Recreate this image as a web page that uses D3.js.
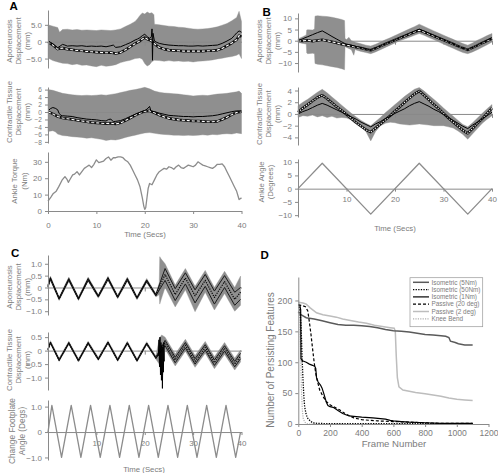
<!DOCTYPE html>
<html><head><meta charset="utf-8">
<script src="https://cdn.jsdelivr.net/npm/d3@7"></script>
<style>body{margin:0;background:#fff}svg{display:block}</style>
</head><body>
<svg id="chart" width="498" height="473"></svg>
<script>
// ---------------- DATA ----------------
const timeTicks = [0, 10, 20, 30, 40];
// Panel A : aponeurosis displacement (mm) [time s, value]
const aAponBandHi = [[0,5.0],[1,4.6],[2,4.2],[2.4,2.8],[3,3.6],[4,3.7],[5,3.5],[6,3.6],[7,3.4],[8,3.5],[9,3.4],[10,3.3],[11,3.5],[12,3.4],[13,3.3],[14,3.5],[15,3.8],[16,4.5],[17,5.2],[18,6.0],[18.5,6.8],[19,7.8],[19.5,8.5],[20,8.2],[20.5,8.8],[21,8.4],[21.5,8.6],[21.9,8.0],[22,5.2],[23,5.0],[24,4.8],[25,4.6],[26,4.5],[27,4.3],[28,4.2],[29,4.0],[30,3.8],[31,3.7],[32,3.8],[33,3.9],[34,4.1],[35,4.4],[36,4.9],[37,5.4],[38,6.2],[39,7.2],[39.5,9.0],[40,6.0]];
const aAponBandLo = [[0,-4.8],[1,-5.6],[2,-6.0],[3,-6.4],[4,-6.5],[5,-6.8],[6,-6.6],[7,-7.0],[8,-6.9],[9,-7.2],[10,-7.4],[11,-7.0],[12,-7.3],[13,-7.1],[14,-6.8],[15,-6.2],[16,-5.8],[17,-5.5],[18,-5.0],[19,-4.8],[19.5,-5.2],[20,-6.5],[20.5,-7.2],[21,-6.8],[21.5,-5.9],[22,-5.5],[23,-5.6],[24,-5.8],[25,-5.6],[26,-5.8],[27,-5.7],[28,-5.9],[29,-5.8],[30,-6.0],[31,-5.8],[32,-5.7],[33,-5.6],[34,-5.4],[35,-5.1],[36,-4.9],[37,-4.6],[38,-4.4],[39,-4.0],[39.5,-3.6],[40,-5.0]];
const aAponSolid = [[0,0.2],[0.5,-0.3],[1,-0.6],[1.5,-1.2],[2,-1.8],[2.5,-1.3],[3,-0.8],[3.5,-1.0],[4,-1.3],[5,-1.2],[6,-1.3],[7,-1.2],[8,-1.4],[9,-1.3],[10,-1.4],[11,-1.3],[12,-1.5],[13,-1.2],[13.5,-1.0],[14,-1.7],[15,-1.5],[16,-0.9],[17,-0.3],[18,0.5],[18.5,0.8],[19,1.2],[19.5,1.8],[20,2.2],[20.5,1.5],[21,1.0],[21.4,1.6],[21.5,3.8],[21.6,-5.5],[21.7,2.5],[22,0.2],[22.5,-0.2],[23,-0.5],[24,-0.8],[25,-1.0],[26,-1.1],[27,-1.2],[28,-1.2],[29,-1.3],[30,-1.3],[31,-1.2],[32,-1.3],[33,-1.2],[34,-1.1],[35,-1.0],[36,-0.5],[37,0.2],[38,1.0],[38.5,1.8],[39,2.6],[39.5,3.2],[40,2.8]];
const aAponDashed = [[0,0.0],[0.5,-0.5],[1,-1.0],[1.5,-1.6],[2,-2.2],[2.5,-2.0],[3,-1.9],[4,-2.2],[5,-2.4],[6,-2.6],[7,-2.7],[8,-2.9],[9,-3.0],[10,-3.1],[11,-3.2],[12,-3.3],[13,-3.2],[14,-3.5],[15,-3.2],[16,-2.4],[17,-1.5],[18,-0.6],[19,0.2],[19.5,0.8],[20,1.2],[20.5,0.8],[21,0.5],[21.5,0.2],[22,-0.6],[22.5,-1.2],[23,-1.7],[24,-2.2],[25,-2.5],[26,-2.6],[27,-2.7],[28,-2.8],[29,-2.8],[30,-2.8],[31,-2.8],[32,-2.8],[33,-2.7],[34,-2.7],[35,-2.5],[36,-2.0],[37,-1.2],[38,-0.4],[39,0.6],[39.5,1.8],[40,1.5]];
// Panel A : contractile tissue displacement (mm)
const aContBandHi = [[0,6.0],[1,5.8],[2,5.4],[3,5.0],[4,4.8],[5,4.6],[6,4.5],[7,4.4],[8,4.5],[9,4.4],[10,4.5],[11,4.6],[12,4.5],[13,4.7],[14,4.9],[15,5.2],[16,5.5],[17,5.8],[18,6.0],[19,6.3],[20,6.6],[21,6.2],[22,5.6],[23,5.3],[24,5.1],[25,5.0],[26,4.9],[27,4.8],[28,4.6],[29,4.5],[30,4.3],[31,4.4],[32,4.5],[33,4.4],[34,4.6],[35,4.8],[36,4.9],[37,5.0],[38,5.2],[39,5.4],[39.5,5.6],[40,5.0]];
const aContBandLo = [[0,-5.2],[1,-5.0],[1.5,-5.3],[2,-5.9],[3,-6.3],[4,-6.4],[5,-6.6],[6,-6.7],[7,-6.8],[8,-7.0],[9,-6.9],[10,-7.1],[11,-7.3],[12,-7.6],[13,-7.4],[14,-7.5],[15,-7.2],[16,-6.8],[17,-6.5],[18,-6.2],[19,-5.9],[20,-5.6],[21,-5.5],[22,-5.7],[23,-5.9],[24,-6.0],[25,-6.1],[26,-6.2],[27,-6.2],[28,-6.3],[29,-6.2],[30,-6.3],[31,-6.2],[32,-6.1],[33,-6.2],[34,-6.0],[35,-6.1],[36,-5.9],[37,-5.8],[38,-5.9],[39,-5.6],[40,-5.8]];
const aContSolid = [[0,0.3],[0.5,0.9],[1,1.2],[1.5,1.0],[2,0.6],[2.3,-0.4],[2.7,-0.9],[3,-1.0],[4,-1.1],[5,-1.2],[6,-1.5],[7,-1.7],[8,-1.9],[9,-2.0],[10,-2.1],[11,-2.3],[12,-2.4],[12.5,-2.0],[13,-1.9],[13.5,-2.6],[14,-2.5],[15,-2.3],[16,-1.8],[17,-1.2],[18,-0.6],[19,-0.1],[20,0.4],[20.5,0.8],[21,1.5],[21.3,0.2],[22,0.1],[23,-0.3],[24,-0.6],[25,-0.9],[26,-1.0],[27,-1.1],[28,-1.2],[29,-1.2],[30,-1.3],[31,-1.2],[32,-1.2],[33,-1.1],[34,-1.0],[35,-0.8],[36,-0.5],[37,-0.2],[38,0.1],[39,0.3],[40,0.2]];
const aContDashed = [[0,0.1],[1,-0.5],[2,-1.2],[3,-1.6],[4,-1.8],[5,-2.0],[6,-2.2],[7,-2.4],[8,-2.6],[9,-2.8],[10,-2.9],[11,-3.0],[12,-3.1],[13,-3.0],[14,-3.2],[15,-2.9],[16,-2.3],[17,-1.6],[18,-0.9],[19,-0.3],[20,0.2],[21,0.3],[22,-0.2],[23,-0.8],[24,-1.3],[25,-1.7],[26,-1.9],[27,-2.1],[28,-2.2],[29,-2.3],[30,-2.4],[31,-2.4],[32,-2.5],[33,-2.6],[34,-2.6],[35,-2.5],[36,-2.0],[37,-1.4],[38,-0.7],[39,-0.1],[40,0.1]];
// Panel A : ankle torque (Nm)
const aTorque = [[0,6],[0.6,8.5],[1.1,10.7],[1.7,12.1],[2.2,14.7],[2.9,18.8],[3.5,21],[3.9,19.5],[4.2,17.5],[4.6,19.5],[5.1,22],[5.5,22.5],[6.0,24],[6.5,22],[7.0,24],[7.5,26],[8.0,27],[8.5,28],[9.0,26.5],[9.5,28.5],[10,31.2],[10.5,29.5],[11,30],[11.5,30.5],[12,32],[12.5,33],[13,31],[13.5,32.5],[14,32.5],[14.5,33],[15,33],[15.5,32.5],[16,31],[16.5,30],[17,28],[17.5,25],[18,22],[18.5,19],[19,15],[19.5,8],[19.8,3],[20,1],[20.2,2],[20.5,9],[20.7,13.7],[21,16.8],[21.5,16],[22,19],[22.5,22],[23,24],[23.5,25],[24,26],[24.5,25.5],[25,27],[25.5,26.5],[26,25.5],[26.5,27],[27,28],[27.5,26.5],[28,26],[28.5,27],[29,28],[29.5,27.5],[30,27],[30.5,28],[31,30],[31.5,29],[32,28],[32.5,27.5],[33,27],[33.5,26.5],[34,26],[34.5,27],[35,28.5],[35.5,28.5],[36,28.8],[36.5,27],[37,24],[37.5,21],[38,18],[38.5,15],[39,12],[39.5,7],[40,8]];

// Panel B : aponeurosis displacement (mm)
const bAponBandHi = [[0,0.8],[1,1.8],[1.7,2.6],[1.8,4.8],[2,4.9],[3,4.8],[3.4,5.2],[3.5,11.0],[4,11.2],[5,11.0],[6,10.8],[7,10.5],[8,10.0],[9,9.5],[9.6,9.0],[9.7,1.0],[10,0.5],[10.5,1.5],[11,0.0],[12,-0.8],[13,-1.4],[14,-2.0],[15,-2.4],[16,-1.6],[17,-0.6],[18,0.4],[19,1.3],[20,2.3],[21,3.3],[22,4.3],[23,5.3],[24,6.3],[25,7.4],[26,6.4],[27,5.4],[28,4.4],[29,3.4],[30,2.5],[31,1.5],[32,0.6],[33,-0.4],[34,-1.3],[35,-2.0],[36,-1.0],[37,0.2],[38,1.2],[39,2.3],[40,3.2]];
const bAponBandLo = [[0,-0.8],[1,-1.2],[1.7,-1.5],[1.8,-5.5],[2,-5.8],[3,-5.6],[3.4,-5.8],[3.5,-10.2],[4,-10.5],[5,-10.8],[6,-11.2],[7,-11.6],[8,-12.0],[9,-12.5],[9.6,-13.0],[9.7,-2.6],[10,-3.0],[11,-4.0],[11.5,-6.5],[11.8,-3.8],[12,-4.2],[13,-4.8],[14,-5.3],[15,-5.8],[16,-5.0],[17,-4.0],[18,-3.0],[19,-2.0],[20,-1.0],[21,0.0],[22,0.8],[23,1.6],[24,2.4],[25,3.2],[26,2.4],[27,1.4],[28,0.5],[29,-0.5],[30,-1.5],[31,-2.5],[32,-3.4],[33,-4.4],[34,-5.3],[35,-5.8],[36,-5.0],[37,-4.0],[38,-2.9],[39,-1.8],[40,-0.6]];
const bAponSolid = [[0,0],[1,0.9],[2,1.8],[3,2.7],[4,3.6],[5,4.4],[6,3.2],[7,1.9],[8,0.7],[9,-0.5],[9.7,-1.3],[10,-1.5],[11,-2.0],[12,-2.6],[13,-3.1],[14,-3.7],[15,-4.2],[16,-3.2],[17,-2.3],[18,-1.4],[19,-0.5],[20,0.4],[21,1.4],[22,2.3],[23,3.3],[24,4.2],[25,5.2],[26,4.3],[27,3.3],[28,2.4],[29,1.4],[30,0.5],[31,-0.5],[32,-1.4],[33,-2.4],[34,-3.3],[35,-4.0],[36,-3.0],[37,-2.0],[38,-0.9],[39,0.2],[40,1.3]];
const bAponDashed = [[0,0],[1,-0.1],[2,0.2],[3,-0.2],[4,0.1],[5,0.4],[6,0.0],[7,-0.5],[8,-1.0],[9,-1.6],[10,-2.0],[11,-2.4],[12,-2.9],[13,-3.3],[14,-3.8],[15,-4.3],[16,-3.4],[17,-2.4],[18,-1.5],[19,-0.6],[20,0.3],[21,1.2],[22,2.1],[23,3.0],[24,3.9],[25,4.7],[26,3.9],[27,3.0],[28,2.1],[29,1.2],[30,0.3],[31,-0.6],[32,-1.5],[33,-2.4],[34,-3.3],[35,-4.1],[36,-3.1],[37,-2.1],[38,-1.0],[39,0.0],[40,1.0]];
// Panel B : contractile tissue displacement (mm)
const bContBandHi = [[0,1.4],[1,2.0],[2,2.5],[3,3.1],[4,3.7],[5,4.2],[6,3.6],[7,2.9],[8,2.2],[9,1.5],[10,0.8],[11,0.1],[12,-0.5],[13,-1.1],[14,-1.6],[15,-2.0],[16,-1.3],[17,-0.6],[18,0.2],[19,0.9],[20,1.6],[21,2.3],[22,3.0],[23,3.6],[24,4.2],[25,4.5],[26,3.9],[27,3.2],[28,2.5],[29,1.8],[30,1.0],[31,0.3],[32,-0.4],[33,-1.1],[34,-1.8],[35,-2.2],[36,-1.5],[37,-0.7],[38,0.1],[39,0.9],[40,1.6]];
const bContBandLo = [[0,-0.6],[1,-0.3],[2,-0.4],[3,-0.2],[4,-0.5],[5,-0.3],[6,-0.6],[7,-0.4],[8,-0.7],[9,-0.6],[10,-0.7],[11,-1.0],[12,-1.3],[13,-2.0],[14,-3.0],[15,-4.6],[16,-3.0],[17,-2.0],[18,-1.6],[19,-1.4],[20,-1.5],[21,-1.7],[22,-1.8],[23,-1.9],[24,-1.8],[25,-1.7],[26,-1.8],[27,-1.9],[28,-2.0],[29,-2.0],[30,-2.0],[31,-2.2],[32,-2.4],[33,-2.9],[34,-3.5],[35,-4.3],[36,-3.4],[37,-2.5],[38,-1.6],[39,-0.9],[40,-0.3]];
const bContSolid = [[0,0],[1,0.4],[2,0.7],[3,1.1],[4,1.5],[5,1.8],[6,1.5],[7,1.1],[8,0.7],[9,0.3],[10,-0.1],[11,-0.5],[12,-0.9],[13,-1.4],[14,-1.8],[15,-2.2],[16,-1.7],[17,-1.3],[18,-0.8],[19,-0.4],[20,0.1],[21,0.5],[22,0.9],[23,1.4],[24,1.8],[25,2.1],[26,1.7],[27,1.3],[28,0.8],[29,0.4],[30,-0.1],[31,-0.6],[32,-1.1],[33,-1.6],[34,-2.1],[35,-2.5],[36,-1.9],[37,-1.4],[38,-0.8],[39,-0.3],[40,0.3]];
const bContDotted = [[0,0.3],[1,1.0],[2,1.6],[3,2.2],[4,2.8],[5,3.2],[6,2.6],[7,1.9],[8,1.2],[9,0.6],[10,-0.1],[11,-0.8],[12,-1.5],[13,-2.1],[14,-2.7],[15,-3.1],[16,-2.4],[17,-1.7],[18,-1.0],[19,-0.3],[20,0.5],[21,1.2],[22,2.0],[23,2.7],[24,3.4],[25,3.9],[26,3.2],[27,2.4],[28,1.6],[29,0.9],[30,0.1],[31,-0.7],[32,-1.4],[33,-2.1],[34,-2.8],[35,-3.3],[36,-2.5],[37,-1.6],[38,-0.8],[39,0.1],[40,1.0]];
// Panel B : ankle angle (degrees)
const bAngle = [[0,0],[5,9.6],[15,-9.6],[25,9.6],[35,-9.6],[40,0]];

// Panel C : aponeurosis displacement (mm)
const cAponBandHi = [[0,0.15],[0.5,0.48],[2.3,-0.4],[4.3,0.44],[6.3,-0.4],[8.3,0.44],[10.4,-0.3],[12.4,0.47],[14.4,-0.33],[16.4,0.44],[18.4,-0.37],[20.4,0.38],[22.3,-0.25],[23.0,0.2],[23.1,1.3],[23.4,1.2],[24.2,1.0],[26.3,0.1],[28.4,0.8],[30.4,0.05],[32.5,0.72],[34.4,0.0],[36.5,0.68],[38.6,0.0],[39.8,0.48]];
const cAponBandLo = [[0,-0.05],[0.5,0.3],[2.3,-0.55],[4.3,0.26],[6.3,-0.55],[8.3,0.26],[10.4,-0.45],[12.4,0.3],[14.4,-0.48],[16.4,0.26],[18.4,-0.52],[20.4,0.2],[22.3,-0.4],[23.0,-0.3],[23.1,-0.7],[23.4,-0.5],[24.2,0.0],[26.3,-0.82],[28.4,-0.1],[30.4,-1.02],[32.5,-0.2],[34.4,-0.95],[36.5,-0.25],[38.6,-1.0],[39.8,-0.75]];
const cAponUpper = [[0,0.1],[0.5,0.42],[2.3,-0.45],[4.3,0.38],[6.3,-0.45],[8.3,0.38],[10.4,-0.35],[12.4,0.42],[14.4,-0.38],[16.4,0.38],[18.4,-0.42],[20.4,0.32],[22.3,-0.3],[24.2,0.8],[26.3,-0.05],[28.4,0.62],[30.4,-0.1],[32.5,0.55],[34.4,-0.15],[36.5,0.5],[38.6,-0.2],[39.8,0.0]];
const cAponDotted = [[0,0.05],[0.5,0.38],[2.3,-0.47],[4.3,0.34],[6.3,-0.47],[8.3,0.34],[10.4,-0.37],[12.4,0.38],[14.4,-0.4],[16.4,0.34],[18.4,-0.44],[20.4,0.28],[22.3,-0.32],[24.2,0.55],[26.3,-0.3],[28.4,0.4],[30.4,-0.35],[32.5,0.3],[34.4,-0.42],[36.5,0.25],[38.6,-0.5],[39.8,-0.2]];
const cAponLower = [[0,0.02],[0.5,0.35],[2.3,-0.5],[4.3,0.3],[6.3,-0.5],[8.3,0.3],[10.4,-0.4],[12.4,0.34],[14.4,-0.43],[16.4,0.3],[18.4,-0.47],[20.4,0.25],[22.3,-0.35],[24.2,0.3],[26.3,-0.55],[28.4,0.15],[30.4,-0.65],[32.5,0.05],[34.4,-0.7],[36.5,0.0],[38.6,-0.75],[39.8,-0.5]];
// Panel C : contractile tissue displacement (mm)
const cContBandHi = [[0,0.1],[0.5,0.37],[2.3,-0.28],[4.3,0.35],[6.3,-0.3],[8.3,0.35],[10.4,-0.25],[12.4,0.37],[14.4,-0.28],[16.4,0.35],[18.4,-0.3],[20.4,0.33],[22.3,-0.2],[23.0,0.45],[23.5,0.58],[24.2,0.5],[26.3,-0.13],[28.4,0.42],[30.4,-0.18],[32.5,0.34],[34.4,-0.23],[36.5,0.3],[38.6,-0.28],[39.8,0.02]];
const cContBandLo = [[0,0.0],[0.5,0.25],[2.3,-0.4],[4.3,0.23],[6.3,-0.42],[8.3,0.23],[10.4,-0.37],[12.4,0.25],[14.4,-0.4],[16.4,0.23],[18.4,-0.42],[20.4,0.21],[22.3,-0.32],[23.0,-0.5],[23.7,-0.9],[24.2,0.06],[26.3,-0.57],[28.4,-0.02],[30.4,-0.62],[32.5,-0.1],[34.4,-0.67],[36.5,-0.14],[38.6,-0.72],[39.8,-0.42]];
const cContUpper = [[0,0.05],[0.5,0.32],[2.3,-0.33],[4.3,0.3],[6.3,-0.35],[8.3,0.3],[10.4,-0.3],[12.4,0.32],[14.4,-0.33],[16.4,0.3],[18.4,-0.35],[20.4,0.28],[22.3,-0.25],[24.2,0.38],[26.3,-0.25],[28.4,0.3],[30.4,-0.3],[32.5,0.22],[34.4,-0.35],[36.5,0.18],[38.6,-0.4],[39.8,-0.1]];
const cContDotted = [[0,0.04],[0.5,0.3],[2.3,-0.35],[4.3,0.28],[6.3,-0.37],[8.3,0.28],[10.4,-0.32],[12.4,0.3],[14.4,-0.35],[16.4,0.28],[18.4,-0.37],[20.4,0.26],[22.3,-0.27],[24.2,0.28],[26.3,-0.35],[28.4,0.2],[30.4,-0.4],[32.5,0.12],[34.4,-0.45],[36.5,0.08],[38.6,-0.5],[39.8,-0.2]];
const cContLower = [[0,0.03],[0.5,0.28],[2.3,-0.37],[4.3,0.26],[6.3,-0.39],[8.3,0.26],[10.4,-0.34],[12.4,0.28],[14.4,-0.37],[16.4,0.26],[18.4,-0.39],[20.4,0.24],[22.3,-0.29],[24.2,0.18],[26.3,-0.45],[28.4,0.1],[30.4,-0.5],[32.5,0.02],[34.4,-0.55],[36.5,-0.02],[38.6,-0.6],[39.8,-0.3]];
const cContTransient = [[22.8,-0.2],[22.95,0.4],[23.05,-0.6],[23.15,0.5],[23.25,-0.9],[23.35,0.3],[23.45,-1.1],[23.55,0.2],[23.65,-1.4],[23.75,0.1],[23.85,-0.8],[23.95,0.3],[24.05,-0.4]];
// Panel C : change in footplate angle (degs)
const cAngle = [[0,0],[0.8,1.05],[2.8,-1.0],[4.8,1.05],[6.8,-1.0],[8.8,1.05],[10.8,-1.0],[12.8,1.05],[14.8,-1.0],[16.8,1.05],[18.8,-1.0],[20.8,1.05],[22.8,-1.0],[24.8,1.05],[26.8,-1.0],[28.8,1.05],[30.8,-1.0],[32.8,1.05],[34.8,-1.0],[36.8,1.05],[38.8,-1.0],[39.8,0]];

// Panel D : number of persisting features vs frame number [frame, count]
const dFrameTicks = [0, 200, 400, 600, 800, 1000, 1200];
const dCountTicks = [0, 50, 100, 150, 200];
const dIso5 = [[0,182],[10,178],[50,172],[100,170],[150,167],[200,164],[250,161],[300,160],[350,160],[400,159],[450,158],[500,156],[550,153],[600,151],[650,150],[700,149],[750,147],[800,145],[850,144],[900,143],[930,142],[950,140],[960,134],[990,132],[1010,130],[1050,128],[1100,128]];
const dIso50 = [[5,190],[10,185],[15,170],[20,140],[25,100],[30,70],[35,45],[40,28],[50,15],[60,9],[75,5],[90,2],[120,1],[200,0.5],[1100,0.5]];
const dIso1 = [[0,193],[10,192],[15,185],[17,106],[20,104],[30,102],[50,100],[70,97],[90,95],[105,93],[110,90],[115,75],[125,68],[140,63],[150,58],[160,50],[168,43],[177,35],[187,30],[200,28],[220,27],[250,22],[280,17],[320,13],[365,12],[400,11],[470,10],[550,8],[580,6],[600,5],[650,4],[700,3],[800,2],[900,1],[1100,1]];
const dPas20 = [[0,193],[20,192],[45,190],[60,183],[70,165],[80,145],[90,122],[100,100],[110,82],[120,70],[135,55],[155,45],[175,37],[200,31],[230,27],[260,23],[300,16],[350,10],[400,7],[500,5],[600,4],[700,3],[800,2],[900,1],[1100,1]];
const dPas2 = [[0,197],[30,196],[50,194],[75,188],[115,180],[155,177],[200,175],[240,173],[280,170],[320,168],[380,165],[430,163],[480,160],[530,158],[580,156],[605,155],[612,150],[618,110],[625,75],[635,60],[660,55],[700,53],[740,51],[800,49],[850,47],[900,45],[950,42],[1000,40],[1050,39],[1100,38]];
const dKnee = [[0,200],[5,198],[10,170],[15,110],[20,55],[25,25],[30,10],[40,3],[60,0],[870,0]];
const dLegendLabels = ["Isometric (5Nm)", "Isometric (50Nm)", "Isometric (1Nm)", "Passive (20 deg)", "Passive (2 deg)", "Knee Bend"];

// ---------------- DRAWING ----------------
const FONT = '"Liberation Sans", Arial, Helvetica, sans-serif';
const AX = "#8a8a8a", TXT = "#7c7c7c", BAND = "#8f8f8f";
const svg = d3.select("#chart");

function styleAxis(g, fs) {
  g.attr("font-family", FONT).attr("font-size", fs);
  g.select(".domain").attr("stroke", AX);
  g.selectAll(".tick line").attr("stroke", AX);
  g.selectAll(".tick text").attr("fill", TXT);
}
const fmt1 = d => d === 0 ? "0" : d3.format(".1f")(d);
const fmtD = d3.format("d");

const STYLES = {
  solid: [{stroke:"#000", w:1}],
  grayLine: [{stroke:"#8c8c8c", w:1.3}],
  dark: [{stroke:"#1a1a1a", w:1}],
  whiteDash: [{stroke:"#111", w:2.6}, {stroke:"#fff", w:1.1, dash:"3,2"}],
  whiteDot: [{stroke:"#111", w:2.6}, {stroke:"#fff", w:1.1, dash:"1.2,1.4"}],
  dotted: [{stroke:"#000", w:1.2, dash:"1.2,1.2"}]
};

function sub(o) {
  const x = d3.scaleLinear().domain([0, 40]).range([o.x0, o.x1]);
  const y = d3.scaleLinear().domain(o.dom).range([o.yb, o.yt]);
  const g = svg.append("g");
  const ln = d3.line().x(d => x(d[0])).y(d => y(d[1]));
  if (o.band) {
    const pts = o.band[0].concat(o.band[1].slice().reverse());
    g.append("path").attr("d", ln(pts) + "Z").attr("fill", BAND).attr("stroke", BAND).attr("stroke-width", 0.4);
  }
  // zero line with time ticks
  const zAxis = d3.axisBottom(x).tickValues(o.zt).tickSize(o.zts || 4).tickSizeOuter(0)
    .tickPadding(o.zpad || 4).tickFormat(o.zlab ? fmtD : () => "");
  const za = g.append("g").attr("transform", `translate(0,${y(0)})`).call(zAxis);
  styleAxis(za, 8);
  (o.lines || []).forEach(L => {
    STYLES[L.style].forEach(s => {
      g.append("path").attr("d", ln(L.data)).attr("fill", "none")
        .attr("stroke", s.stroke).attr("stroke-width", s.w)
        .attr("stroke-dasharray", s.dash || null).attr("stroke-linejoin", "round");
    });
  });
  const ya = g.append("g").attr("transform", `translate(${o.x0},0)`)
    .call(d3.axisLeft(y).tickValues(o.yticks).tickFormat(o.fmt).tickSize(3).tickSizeOuter(0).tickPadding(3));
  styleAxis(ya, o.yfs || 8);
  o.title.forEach((t, i) => {
    g.append("text").attr("transform", `translate(${o.tx[i]},${o.ty}) rotate(-90)`)
      .attr("dy", "0.35em").attr("text-anchor", "middle")
      .attr("font-family", FONT).attr("font-size", o.tfs || 7.8).attr("fill", TXT).text(t);
  });
  return {x, y, g};
}

function letter(t, x, y) {
  svg.append("text").attr("x", x).attr("y", y).attr("font-family", FONT)
    .attr("font-weight", "bold").attr("font-size", 11.5).attr("fill", "#000").text(t);
}
function xTitle(t, x, y, fs) {
  svg.append("text").attr("x", x).attr("y", y).attr("text-anchor", "middle")
    .attr("font-family", FONT).attr("font-size", fs).attr("fill", TXT).text(t);
}

// ----- Panel A -----
letter("A", 9.5, 9.5);
sub({x0:48, x1:241.5, yt:10, yb:68, dom:[-7.8, 9.4], yticks:[-5,0,5], fmt:fmt1,
  zt:[10,20,30], band:[aAponBandHi, aAponBandLo],
  lines:[{data:aAponDashed, style:"whiteDash"}, {data:aAponSolid, style:"solid"}],
  title:["Aponeurosis","Displacement","(mm)"], tx:[9,18,27], ty:41});
sub({x0:48, x1:241.5, yt:87, yb:143, dom:[-8.3, 6.7], yticks:[-8,-6,-4,-2,0,2,4,6], fmt:fmtD, yfs:6.6,
  zt:[10,20,30], band:[aContBandHi, aContBandLo],
  lines:[{data:aContDashed, style:"whiteDash"}, {data:aContSolid, style:"solid"}],
  title:["Contractile Tissue","Displacement","(mm)"], tx:[9,18,27], ty:112});
sub({x0:48, x1:241.5, yt:152, yb:211, dom:[0, 36], yticks:[0,10,20,30], fmt:fmtD,
  zt:timeTicks, zlab:true, zts:3, zpad:8,
  lines:[{data:aTorque, style:"grayLine"}],
  title:["Ankle Torque","(Nm)"], tx:[14,24], ty:181});
xTitle("Time (Secs)", 145, 236.5, 7.8);

// ----- Panel B -----
letter("B", 262.5, 15.5);
sub({x0:298, x1:492, yt:13, yb:72, dom:[-14, 12.4], yticks:[-10,-5,0,5,10], fmt:fmtD,
  zt:[10,20,30,40], band:[bAponBandHi, bAponBandLo],
  lines:[{data:bAponDashed, style:"whiteDash"}, {data:bAponSolid, style:"solid"}],
  title:["Aponeurosis","Displacement","(mm)"], tx:[259,268,277], ty:41});
sub({x0:298, x1:492, yt:87, yb:145, dom:[-5.3, 4.6], yticks:[-4,-2,0,2,4], fmt:fmtD,
  zt:[10,20,30,40], band:[bContBandHi, bContBandLo],
  lines:[{data:bContDotted, style:"whiteDot"}, {data:bContSolid, style:"solid"}],
  title:["Contractile Tissue","Displacement","(mm)"], tx:[259,268,277], ty:114});
sub({x0:298, x1:492, yt:159, yb:217, dom:[-10.7, 11.2], yticks:[-10,-5,0,5,10], fmt:fmtD,
  zt:[10,20,30,40], zlab:true, zts:3, zpad:5,
  lines:[{data:bAngle, style:"grayLine"}],
  title:["Ankle Angle","(Degrees)"], tx:[261,270], ty:182});
xTitle("Time (Secs)", 395, 230.5, 7.8);

// ----- Panel C -----
letter("C", 11, 256.5);
sub({x0:48, x1:241.5, yt:255, yb:315, dom:[-1.16, 1.37], yticks:[-1,-0.5,0,0.5,1], fmt:fmt1,
  zt:[20], band:[cAponBandHi, cAponBandLo],
  lines:[{data:cAponUpper, style:"dark"}, {data:cAponLower, style:"dark"}, {data:cAponDotted, style:"dotted"}],
  title:["Aponeurosis","Displacement","(mm)"], tx:[9,18,27], ty:287});
sub({x0:48, x1:241.5, yt:332, yb:390, dom:[-1.46, 0.69], yticks:[-1,-0.5,0,0.5], fmt:fmt1,
  zt:[20], band:[cContBandHi, cContBandLo],
  lines:[{data:cContUpper, style:"dark"}, {data:cContLower, style:"dark"}, {data:cContDotted, style:"dotted"}, {data:cContTransient, style:"solid"}],
  title:["Contractile Tissue","Displacement","(mm)"], tx:[9,18,27], ty:360});
sub({x0:48, x1:241.5, yt:400, yb:460, dom:[-1.1, 1.26], yticks:[-1,0,1], fmt:fmt1,
  zt:[10,20,30,40], zlab:true, zts:3, zpad:5,
  lines:[{data:cAngle, style:"grayLine"}],
  title:["Change Footplate","Angle (Degs)"], tx:[12,22], ty:431, tfs:8.3});
xTitle("Time (Secs)", 144, 471.5, 7.8);

// ----- Panel D -----
letter("D", 260.5, 259);
(function(){
  const x = d3.scaleLinear().domain([0, 1200]).range([298.3, 488.5]);
  const y = d3.scaleLinear().domain([0, 238]).range([424, 277]);
  const g = svg.append("g");
  const ln = d3.line().x(d => x(d[0])).y(d => y(d[1]));
  const series = [
    {data:dIso5, s:[{stroke:"#5a5a5a", w:1.5}]},
    {data:dIso50, s:[{stroke:"#000", w:1.3, dash:"1.3,1.3"}]},
    {data:dIso1, s:[{stroke:"#000", w:1.2}]},
    {data:dPas20, s:[{stroke:"#000", w:1.2, dash:"3,2"}]},
    {data:dPas2, s:[{stroke:"#bdbdbd", w:1.5}]},
    {data:dKnee, s:[{stroke:"#b0b0b0", w:1.2, dash:"1.2,1.2"}]}
  ];
  [4,0,5,1,3,2].forEach(i => {
    series[i].s.forEach(s => g.append("path").attr("d", ln(series[i].data)).attr("fill","none")
      .attr("stroke", s.stroke).attr("stroke-width", s.w).attr("stroke-dasharray", s.dash || null));
  });
  const xa = g.append("g").attr("transform", "translate(0,424)")
    .call(d3.axisBottom(x).tickValues(dFrameTicks).tickFormat(fmtD).tickSize(3).tickSizeOuter(0).tickPadding(2.5));
  styleAxis(xa, 8.6);
  const ya = g.append("g").attr("transform", "translate(298.3,0)")
    .call(d3.axisLeft(y).tickValues(dCountTicks).tickFormat(fmtD).tickSize(3).tickSizeOuter(0).tickPadding(3));
  styleAxis(ya, 8.8);
  g.append("text").attr("transform", "translate(270,360) rotate(-90)").attr("dy", "0.35em")
    .attr("text-anchor", "middle").attr("font-family", FONT).attr("font-size", 10)
    .attr("fill", TXT).text("Number of Persisting Features");
  xTitle("Frame Number", 394, 447, 9.6);
  // legend
  const lg = g.append("g");
  lg.append("rect").attr("x", 410).attr("y", 277.7).attr("width", 72.7).attr("height", 49)
    .attr("fill", "#fff").attr("stroke", "#999").attr("stroke-width", 0.7);
  dLegendLabels.forEach((lab, i) => {
    const yy = 282.3 + i * 7.3;
    series[i].s.forEach(s => lg.append("line").attr("x1", 413).attr("x2", 429).attr("y1", yy).attr("y2", yy)
      .attr("stroke", s.stroke).attr("stroke-width", s.w).attr("stroke-dasharray", s.dash || null));
    lg.append("text").attr("x", 431.5).attr("y", yy).attr("dy", "0.35em")
      .attr("font-family", FONT).attr("font-size", 6.4).attr("fill", TXT).text(lab);
  });
})();
</script>
</body></html>
